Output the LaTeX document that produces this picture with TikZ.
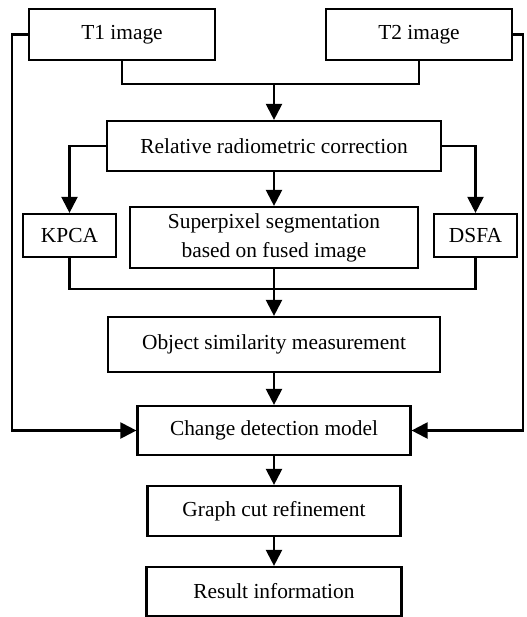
\documentclass[tikz,border=0pt]{standalone}
\usepackage{fontspec}
\setmainfont{Liberation Serif}
\usetikzlibrary{arrows, arrows.meta}
\usetikzlibrary{calc}

\begin{document}
\begin{tikzpicture}[x=0.5pt, y=-0.5pt, line width=1.1pt,
          box/.style={draw, rectangle, inner sep=0pt, align=center, font=\fontsize{10.7}{14.5}\selectfont},
          arr/.style={-{Triangle[length=8pt, width=8pt]}}]
          \useasboundingbox (0,0) rectangle (526,617);

          \node[box, minimum width=93pt, minimum height=25.5pt] (t1) at (122,34.5) {T1 image};
          \node[box, minimum width=93pt, minimum height=25.5pt] (t2) at (419,34.5) {T2 image};
          \node[box, minimum width=167pt, minimum height=25pt] (rrc) at (274,146) {Relative radiometric correction};
          \node[box, minimum width=46.5pt, minimum height=21.5pt] (kpca) at (69.5,235.5) {KPCA};
          \node[box, minimum width=144pt, minimum height=30.5pt] (sp) at (274,237.5) {Superpixel segmentation\\based on fused image};
          \node[box, minimum width=41.5pt, minimum height=21.5pt] (dsfa) at (475.5,235.5) {DSFA};
          \node[box, minimum width=166pt, minimum height=27.5pt] (osm) at (274,344.5) {Object similarity measurement};
          \node[box, minimum width=136.5pt, minimum height=24.5pt] (cdm) at (274,430.5) {Change detection model};
          \node[box, minimum width=126.5pt, minimum height=25pt] (gcr) at (274,511) {Graph cut refinement};
          \node[box, minimum width=127.5pt, minimum height=24.5pt] (res) at (274,591.5) {Result information};

          \coordinate (j1) at (274,84);
          \coordinate (j2) at (274,289);
          \coordinate (lft) at (12,430.5);
          \coordinate (rgt) at (523,430.5);

          \draw (t1.south) |- (t2.south |- j1) -- (t2.south);
          \draw[arr] (j1) -- (rrc.north);
          \draw[arr] (rrc.west) -| (kpca.north);
          \draw[arr] (rrc.east) -| (dsfa.north);
          \draw[arr] (rrc.south) -- (sp.north);
          \draw (kpca.south) |- (dsfa.south |- j2) -- (dsfa.south);
          \draw[arr] (sp.south) -- (osm.north);
          \draw[arr] (osm.south) -- (cdm.north);
          \draw[arr] (t1.west) -| (lft) -- (cdm.west);
          \draw[arr] (t2.east) -| (rgt) -- (cdm.east);
          \draw[arr] (cdm.south) -- (gcr.north);
          \draw[arr] (gcr.south) -- (res.north);
        \end{tikzpicture}
\end{document}
